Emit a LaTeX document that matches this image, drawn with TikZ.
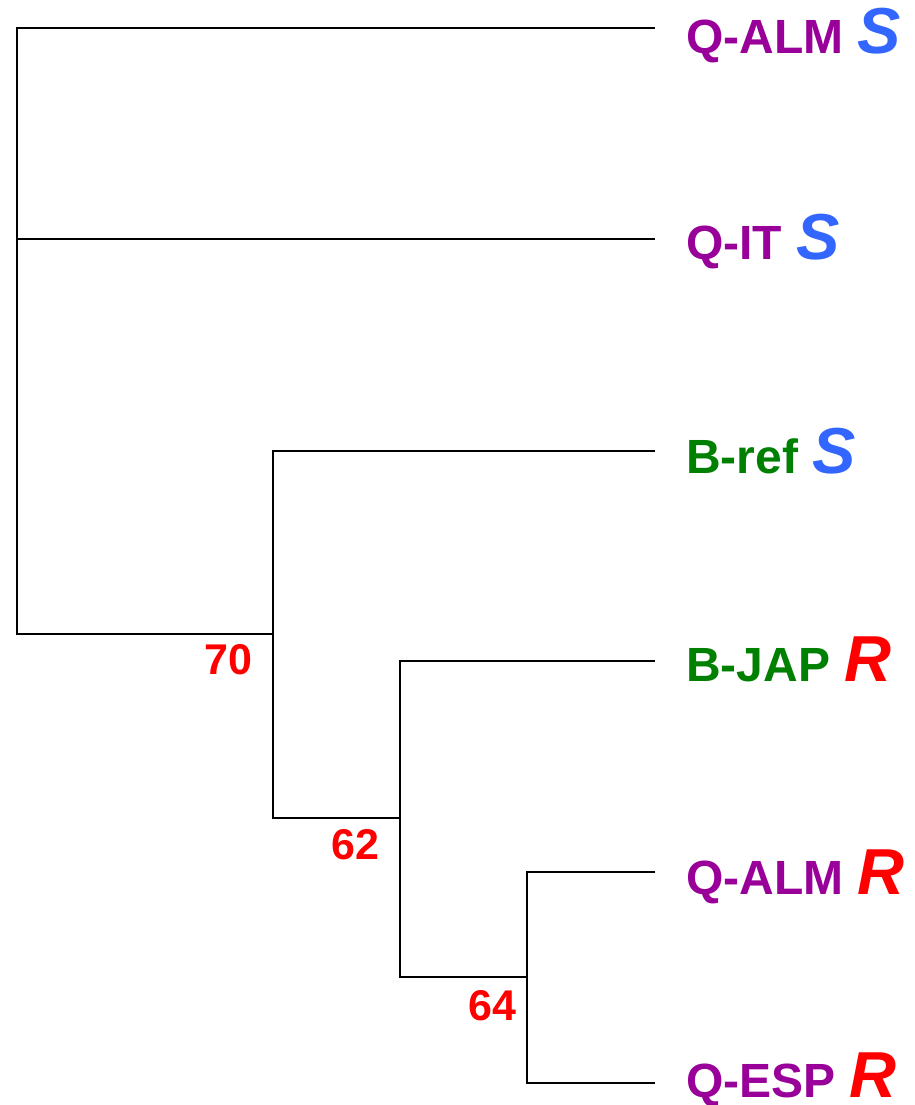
\documentclass[tikz,border=0pt]{standalone}
\usepackage{fontspec}
\setmainfont{Liberation Sans}
\definecolor{qpurple}{HTML}{990099}
\definecolor{bgreen}{HTML}{008000}
\definecolor{sblue}{HTML}{3366FF}
\definecolor{rred}{HTML}{FF0000}
\newcommand{\Sres}{{\color{sblue}\fontsize{65}{65}\selectfont\itshape S}}
\newcommand{\Rres}{{\color{rred}\fontsize{65}{65}\selectfont\itshape R}}
\begin{document}
\begin{tikzpicture}[x=1pt,y=-1pt,
  branch/.style={line width=2.4pt, line join=miter, black},
  leaflabel/.style={anchor=base west, inner sep=0pt, font=\fontsize{48}{48}\selectfont\bfseries},
  support/.style={anchor=base east, inner sep=0pt, text=rred, font=\fontsize{43}{43}\selectfont\bfseries}]
\useasboundingbox (0,0) rectangle (914,1105);
\fill[white] (0,0) rectangle (914,1105);
% internal nodes
\coordinate (R) at (17,634);
\coordinate (A) at (273,634);
\coordinate (B) at (400,818);
\coordinate (C) at (527,977);
% leaf ends
\coordinate (e1) at (655,28);
\coordinate (e2) at (655,239);
\coordinate (e3) at (655,451);
\coordinate (e4) at (655,661);
\coordinate (e5) at (655,872);
\coordinate (e6) at (655,1083);
% branches
\draw[branch] (e1) -| (R) -- (A);
\draw[branch] (e2) -- (e2 -| R);
\draw[branch] (e3) -| (A) -- (A |- B) -- (B);
\draw[branch] (e4) -| (B) -- (B |- C) -- (C);
\draw[branch] (e5) -| (C) -- (C |- e6) -- (e6);
% leaf labels
\node[leaflabel] (t1) at (686,54) {{\color{qpurple}Q-ALM}\hspace{14pt}\Sres};
\node[leaflabel] (t2) at (686,259) {{\color{qpurple}Q-IT}\hspace{14pt}\Sres};
\node[leaflabel] (t3) at (686,473) {{\color{bgreen}B-ref}\hspace{14pt}\Sres};
\node[leaflabel] (t4) at (686,681) {{\color{bgreen}B-JAP}\hspace{14pt}\Rres};
\node[leaflabel] (t5) at (686,894) {{\color{qpurple}Q-ALM}\hspace{14pt}\Rres};
\node[leaflabel] (t6) at (686,1097) {{\color{qpurple}Q-ESP}\hspace{14pt}\Rres};
% support values
\node[support] (s70) at (253,674) {70};
\node[support] (s62) at (380,859) {62};
\node[support] (s64) at (517,1020) {64};
\end{tikzpicture}
\end{document}
